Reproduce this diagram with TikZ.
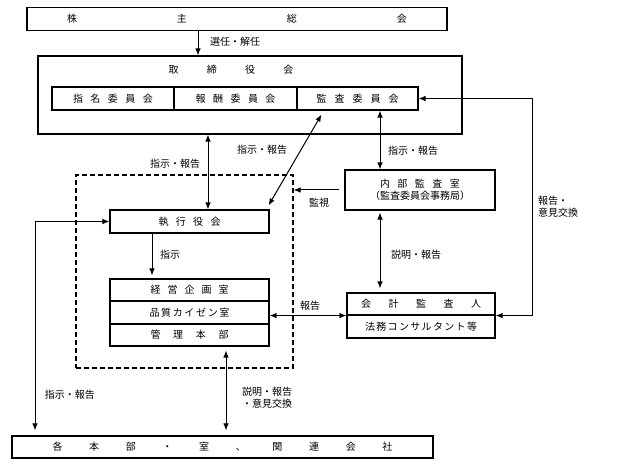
\documentclass[tikz,border=0pt]{standalone}
\usepackage{fontspec}
\newfontfamily\jp{Noto Sans CJK JP}
\usetikzlibrary{arrows.meta}
% 文字を幅いっぱいに広げる
\newcommand{\sprd}[2]{\hbox to #1{#2}}

\begin{document}
\begin{tikzpicture}[x=1pt, y=-1pt,
    every node/.style={font=\jp\fontsize{10}{12}\selectfont},
    box/.style={draw, line width=1.1pt, inner sep=0pt},
    arr/.style={line width=1pt, -{Latex[length=7pt,width=5.5pt]}},
    darr/.style={line width=1pt, {Latex[length=7pt,width=5.5pt]}-{Latex[length=7pt,width=5.5pt]}},
    lbl/.style={inner sep=1pt}]
    \useasboundingbox (0,0) rectangle (625,465);

    % 株主総会
    \node[box, minimum width=420, minimum height=23] (kabunushi) at (237,19)
        {\sprd{340pt}{株\hfill 主\hfill 総\hfill 会}};

    % 取締役会と委員会
    \node[box, minimum width=424, minimum height=78] (torishimari) at (250,95) {};
    \node (torititle) at (231,70) {\sprd{125pt}{取\hfill 締\hfill 役\hfill 会}};
    \node[box, minimum width=122, minimum height=23] (shimei) at (113,98.5)
        {\sprd{80pt}{指\hfill 名\hfill 委\hfill 員\hfill 会}};
    \node[box, minimum width=123, minimum height=23] (hoshu) at (235.5,98.5)
        {\sprd{80pt}{報\hfill 酬\hfill 委\hfill 員\hfill 会}};
    \node[box, minimum width=121, minimum height=23] (kansa) at (357.5,98.5)
        {\sprd{82pt}{監\hfill 査\hfill 委\hfill 員\hfill 会}};

    % 執行側（点線の枠）
    \node[draw, line width=1.1pt, dash pattern=on 5pt off 3pt,
        minimum width=217, minimum height=193] (shikkoubu) at (184.5,271.5) {};
    \node[box, minimum width=159, minimum height=23] (shikkou) at (189.5,221.5)
        {\sprd{62pt}{執\hfill 行\hfill 役\hfill 会}};
    \node[box, minimum width=159, minimum height=22] (keiei) at (189.5,290)
        {\sprd{78pt}{経\hfill 営\hfill 企\hfill 画\hfill 室}};
    \node[box, minimum width=159, minimum height=23] (hinshitsu) at (189.5,312.5)
        {\sprd{80pt}{品\hfill 質\hfill カ\hfill イ\hfill ゼ\hfill ン\hfill 室}};
    \node[box, minimum width=159, minimum height=22] (kanri) at (189.5,335)
        {\sprd{78pt}{管\hfill 理\hfill 本\hfill 部}};

    % 内部監査室・会計監査人
    \node[box, minimum width=150, minimum height=40, align=center] (naibu) at (420,190)
        {\sprd{80pt}{内\hfill 部\hfill 監\hfill 査\hfill 室}\\（監査委員会事務局）};
    \node[box, minimum width=148, minimum height=22] (kaikei) at (421,304)
        {\sprd{120pt}{会\hfill 計\hfill 監\hfill 査\hfill 人}};
    \node[box, minimum width=148, minimum height=23] (houmu) at (421,326.5)
        {\sprd{112pt}{法\hfill 務\hfill コ\hfill ン\hfill サ\hfill ル\hfill タ\hfill ン\hfill ト\hfill 等}};

    % 各本部・室、関連会社
    \node[box, minimum width=421, minimum height=22] (kakubu) at (222.5,447)
        {\sprd{340pt}{各\hfill 本\hfill 部\hfill ・\hfill 室\hfill 、\hfill 関\hfill 連\hfill 会\hfill 社}};

    % 矢印の通る位置
    \coordinate (xa) at (198,0);
    \coordinate (xb) at (208,0);
    \coordinate (xc) at (380,0);
    \coordinate (xd) at (152,0);
    \coordinate (xe) at (35,0);
    \coordinate (xf) at (226,0);
    \coordinate (xg) at (532,0);

    % 矢印
    \draw[arr] (xa |- kabunushi.south) -- (xa |- torishimari.north);
    \draw[darr] (xb |- torishimari.south) -- (xb |- shikkou.north);
    \draw[darr] ([xshift=-36pt,yshift=-4pt]kansa.south) -- ([xshift=-1pt,yshift=4pt]shikkou.north east);
    \draw[darr] (xc |- kansa.south) -- (xc |- naibu.north);
    \draw[arr, shorten <=5pt] (naibu.west) -- (naibu.west -| shikkoubu.east);
    \draw[darr, shorten <=2pt, shorten >=4pt] (xc |- naibu.south) -- (xc |- kaikei.north);
    \draw[darr] (hinshitsu.east |- kaikei.south west) -- (kaikei.south west);
    \draw[arr, shorten >=3pt] (xd |- shikkou.south) -- (xd |- keiei.north);
    \draw[darr, shorten >=5pt] (shikkou.west) -- (xe |- shikkou.west) -- (xe |- kakubu.north);
    \draw[darr, shorten <=4pt, shorten >=5pt] (xf |- kanri.south) -- (xf |- kakubu.north);
    \draw[darr] (kansa.east) -- (xg |- kansa.east) -- (xg |- kaikei.south east) -- (kaikei.south east);

    % ラベル
    \node[lbl, anchor=west] (l1) at (209,42) {選任・解任};
    \node[lbl] (l2) at (175,164) {指示・報告};
    \node[lbl] (l3) at (262,150) {指示・報告};
    \node[lbl] (l4) at (413,151) {指示・報告};
    \node[lbl] (l5) at (319,203) {監視};
    \node[lbl] (l6) at (416,255) {説明・報告};
    \node[lbl] (l7) at (310,306) {報告};
    \node[lbl] (l8) at (170,255) {指示};
    \node[lbl, anchor=west, align=left] (l9) at (537,207) {報告・\\意見交換};
    \node[lbl] (l10) at (70,395) {指示・報告};
    \node[lbl, align=right] (l11) at (267,398) {説明・報告\\・意見交換};
\end{tikzpicture}
\end{document}
